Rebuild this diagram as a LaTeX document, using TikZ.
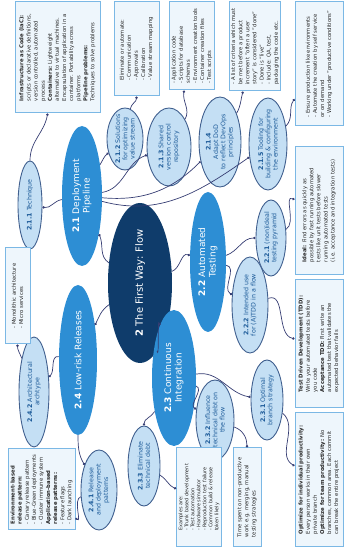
\documentclass[tikz,border=0pt]{standalone}
\usepackage{fontspec}
\setmainfont{DejaVu Sans}
\usepackage{tikz}
\usetikzlibrary{shapes.geometric, arrows.meta}

\definecolor{rootnavy}{HTML}{0F3C6B}
\definecolor{topicblue}{HTML}{2D8ED4}
\definecolor{subfill}{HTML}{C4DFF4}
\definecolor{subline}{HTML}{41608F}
\definecolor{subtext}{HTML}{1D5B99}
\definecolor{notefill}{HTML}{EEF6FC}
\definecolor{noteline}{HTML}{7BB8E5}
\definecolor{linkcol}{HTML}{363D73}

\begin{document}
\begin{tikzpicture}[x=1pt, y=1pt,
    flowroot/.style={ellipse, fill=rootnavy, text=white, inner sep=-30pt, align=center, font=\fontsize{10}{12}\selectfont},
    flowtopic/.style={ellipse, fill=topicblue, text=white, inner sep=-30pt, align=center, font=\fontsize{9}{10.5}\selectfont},
    flowsub/.style={ellipse, draw=subline, line width=0.9pt, fill=subfill, text=subtext, inner sep=-30pt, align=center, font=\fontsize{6.3}{7.3}\selectfont},
    flownote/.style={rectangle, draw=noteline, line width=1pt, fill=notefill, text=black!85, inner sep=2pt, align=left, font=\fontsize{5.3}{7.1}\selectfont},
    esize/.style 2 args={minimum width=#1pt, minimum height=#2pt},
    flowlink/.style={draw=linkcol, line width=0.7pt, -{Circle[length=2.4pt]}}]

  % the map is laid out in landscape and turned on its side
  \begin{scope}[rotate=90, transform shape]
    \useasboundingbox (0,-344) rectangle (549,0);

    % root and main branches
    \node[flowroot, esize={160}{64}] (flow) at (266,-140) {\textbf{2} The First Way: Flow};

    \node[flowtopic, esize={140}{40}] (pipe) at (353,-82) {\textbf{2.1} Deployment\\Pipeline};
    \node[flowtopic, esize={140}{36}] (test) at (287,-208) {\textbf{2.2} Automated\\Testing};
    \node[flowtopic, esize={136}{44}] (integ) at (171,-174) {\textbf{2.3} Continuous\\Integration};
    \node[flowtopic, esize={150}{38}] (release) at (189,-78) {\textbf{2.4} Low-risk Releases};

    % sub branches
    \node[flowsub, esize={88}{24}] (technique) at (344,-30) {\textbf{2.1.1} Technique};
    \node[flowsub, esize={62}{36}] (stream) at (410,-125) {\textbf{2.1.2} Solutions\\for optimizing\\value stream};
    \node[flowsub, esize={78}{44}] (repo) at (402,-169) {\textbf{2.1.3} Shared\\version control\\repository};
    \node[flowsub, esize={90}{42}] (dod) at (407,-220) {\textbf{2.1.4}\\Adapt DoD\\to reflect DevOps\\principles};
    \node[flowsub, esize={92}{38}] (tooling) at (405,-268) {\textbf{2.1.5} Tooling for\\building \& configuring\\the environment};
    \node[flowsub, esize={76}{30}] (pyramid) at (311,-271) {\textbf{2.2.1} (non)ideal\\testing pyramid};
    \node[flowsub, esize={96}{36}] (atdd) at (244,-250) {\textbf{2.2.2} Intended use\\for (A)TDD in a flow};
    \node[flowsub, esize={80}{32}] (branch) at (149,-267) {\textbf{2.3.1} Optimal\\branch strategy};
    \node[flowsub, esize={80}{38}] (debtflow) at (129,-215) {\textbf{2.3.2} Influence\\technical debt on\\the flow};
    \node[flowsub, esize={80}{32}] (debt) at (83,-144) {\textbf{2.3.3} Eliminate\\technical debt};
    \node[flowsub, esize={80}{36}] (patterns) at (59,-99) {\textbf{2.4.1} Release\\and deployment\\patterns};
    \node[flowsub, esize={110}{30}] (archetype) at (157,-34) {\textbf{2.4.2} Architectural\\archtype};

    % notes
    \node[flownote, esize={111}{85}] (iac) at (491.5,-57.5) {\textbf{Infrastructure as Code (IaC):}\\scripts or declarative definitions,\\version controlled, automated\\process\\\textbf{Containers:} Lightweight\\alternative to virtual machines.\\Encapsulation of application in a\\container. Portability across\\platforms\\\textbf{Pipeline problems:}\\Techniques to solve problems};
    \node[flownote, esize={94}{45}] (elim) at (500,-136.5) {Eliminate or automate:\\- Communication\\- Approvals\\- Calibration\\- Value stream mapping};
    \node[flownote, esize={88}{44}] (assets) at (503,-192) {- Application code\\- Scripts for database\\schemas\\- Environment creation tools\\- Container creation files\\- Test scripts};
    \node[flownote, esize={89}{50}] (donedef) at (502.5,-255) {- A list of criteria which must\\be met before a product\\increment "often a user\\story" is considered "done"\\- Done is "live"\\- Include: QA, test,\\packaging the code etc.};
    \node[flownote, esize={124}{48}] (envs) at (485,-319) {- Ensure production like environments\\- Automate the creation by self service\\or on demand\\- Working under "productive conditions"};
    \node[flownote, esize={128}{48}] (ideal) at (338,-319) {\textbf{Ideal:} Find errors as quickly as\\possible by fast running automated\\tests like unit tests before slower\\running automated tests\\(i.e. acceptance and integration tests)};
    \node[flownote, esize={128}{48}] (tdd) at (205,-319) {\textbf{Test Driven Development (TDD):}\\Write your automated tests before\\you code\\\textbf{Acceptance TDD:} First write an\\automated test that validates the\\expected behavior fails};
    \node[flownote, esize={134}{48}] (optimize) at (69,-319) {\textbf{Optimize for individual productivity:}\\Every person works in their own\\private branch\\\textbf{Optimize for team productivity:} No\\branches, common area. Each commit\\can break the entire project};
    \node[flownote, esize={99}{44}, font=\fontsize{4.9}{6}\selectfont] (examples) at (51.5,-199) {Examples are:\\- Trunk based development\\- Test automation\\- Hardware simulator\\- Reproduction test failure\\- Common build \& release\\token likely};
    \node[flownote, esize={99}{28}] (timespent) at (51.5,-247) {Time spent on non-productive\\work e.g. merging, manual\\testing strategies};
    \node[flownote, esize={81}{67}] (relpat) at (59.5,-41.5) {\textbf{Environment-based}\\\textbf{release pattern:}\\- Canary release pattern\\- Blue-Green deployments\\- Cluster immune system\\\textbf{Application-based}\\\textbf{release patterns:}\\- Feature flags\\- Dark launching};
    \node[flownote, esize={96}{25}] (mono) at (253,-17.5) {- Monolithic architecture\\- Micro services};

    % root to main branches
    \draw[flowlink] (flow) to[out=57,in=204] (pipe);
    \draw[flowlink] (flow) to[out=-70,in=70] (test);
    \draw[flowlink] (flow) to[out=194,in=15] (integ);
    \draw[flowlink] (flow) to[out=125,in=-26] (release);

    % main branches to sub branches
    \draw[flowlink] (pipe) to[out=100,in=-100] (technique);
    \draw[flowlink] (pipe) to[out=-30,in=130] (stream);
    \draw[flowlink] (pipe) to[out=-80,in=110] (repo);
    \draw[flowlink] (pipe) to[out=-95,in=135] (dod);
    \draw[flowlink] (pipe) to[out=-105,in=125] (tooling);
    \draw[flowlink] (test) to[out=-70,in=90] (pyramid);
    \draw[flowlink] (test) to[out=-100,in=60] (atdd);
    \draw[flowlink] (integ) to[out=-80,in=80] (branch);
    \draw[flowlink] (integ) to[out=-110,in=60] (debtflow);
    \draw[flowlink] (integ) to[out=150,in=0] (debt);
    \draw[flowlink] (release) to[out=180,in=30] (patterns);
    \draw[flowlink] (release) to[out=80,in=-45] (archetype);

    % sub branches to notes
    \draw[flowlink] (technique) to[out=0,in=170] (iac);
    \draw[flowlink] (stream) to[out=-10,in=180] (elim);
    \draw[flowlink] (repo) to[out=-30,in=170] (assets);
    \draw[flowlink] (dod) to[out=-30,in=165] (donedef);
    \draw[flowlink] (tooling) to[out=-45,in=145] (envs);
    \draw[flowlink] (pyramid) to[out=-60,in=65] (ideal);
    \draw[flowlink] (atdd) to[out=-70,in=78] (tdd);
    \draw[flowlink] (branch) to[out=-130,in=60] (optimize);
    \draw[flowlink] (debtflow) to[out=-110,in=0] (timespent);
    \draw[flowlink] (debt) to[out=-120,in=69] (examples);
    \draw[flowlink] (patterns) to[out=110,in=-130] (relpat);
    \draw[flowlink] (archetype) to[out=20,in=180] (mono);
  \end{scope}
\end{tikzpicture}
\end{document}
